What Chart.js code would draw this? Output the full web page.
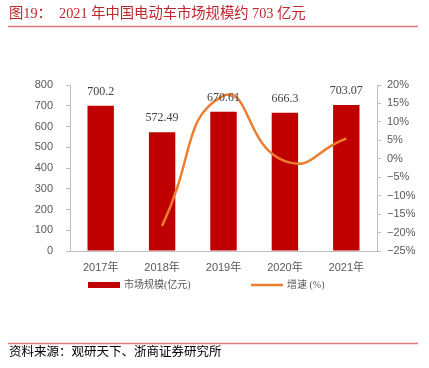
<!DOCTYPE html>
<html><head><meta charset="utf-8">
<script src="https://cdn.jsdelivr.net/npm/chart.js@4.4.1/dist/chart.umd.min.js"></script>
<style>
html,body{margin:0;padding:0;background:#fff;width:429px;height:368px;overflow:hidden;}
#wrap{position:absolute;left:0;top:0;width:429px;height:368px;}
</style></head><body>
<div id="wrap"><canvas id="c" width="429" height="368"></canvas></div>
<script>
const categories = ["2017年","2018年","2019年","2020年","2021年"];
const marketSize = [700.2, 572.49, 670.61, 666.3, 703.07];
const sizeLabels = ["700.2","572.49","670.61","666.3","703.07"];
const growth = [null, -18.2, 17.1, -0.64, 5.5];
const leftTicks = [0,100,200,300,400,500,600,700,800];
const rightTicks = [-25,-20,-15,-10,-5,0,5,10,15,20];
const seriesNames = ["市场规模(亿元)", "增速 (%)"];
const titleText = "图19：  2021 年中国电动车市场规模约 703 亿元";
const sourceText = "资料来源：观研天下、浙商证券研究所";

const RED = '#c00000', ORANGE = '#ed7d31', GRAY = '#595959', AX = '#bfbfbf';

const deco = {
  id: 'deco',
  afterDraw(chart) {
    const ctx = chart.ctx;
    ctx.save();
    // title
    ctx.fillStyle = '#c0262d';
    ctx.font = '14.3px "Liberation Serif", "Noto Sans CJK SC"';
    ctx.textBaseline = 'middle';
    ctx.textAlign = 'left';
    ctx.fillText(titleText, 9, 14);
    ctx.strokeStyle = '#e07a7a';
    ctx.lineWidth = 1.5;
    ctx.beginPath(); ctx.moveTo(8, 26.5); ctx.lineTo(418, 26.5); ctx.stroke();
    // footer
    ctx.beginPath(); ctx.moveTo(8, 343.5); ctx.lineTo(418, 343.5); ctx.stroke();
    ctx.fillStyle = '#000';
    ctx.font = '12.5px "Liberation Serif", "Noto Sans CJK SC"';
    ctx.fillText(sourceText, 9, 353);
    // data labels
    const meta = chart.getDatasetMeta(0);
    ctx.fillStyle = '#404040';
    ctx.font = '12px "Liberation Serif", "Noto Sans CJK SC"';
    ctx.textAlign = 'center';
    ctx.textBaseline = 'middle';
    meta.data.forEach((bar, i) => {
      ctx.fillText(sizeLabels[i], bar.x, bar.y - 14);
    });
    // legend
    ctx.fillStyle = chart.data.datasets[0].backgroundColor;
    ctx.fillRect(88, 282, 32, 6);
    ctx.strokeStyle = chart.data.datasets[1].borderColor;
    ctx.lineWidth = 2.5;
    ctx.beginPath(); ctx.moveTo(251, 285); ctx.lineTo(283, 285); ctx.stroke();
    ctx.fillStyle = GRAY;
    ctx.font = '10px "Liberation Serif", "Noto Sans CJK SC"';
    ctx.textAlign = 'left';
    ctx.fillText(chart.data.datasets[0].label, 124, 285);
    ctx.fillText(chart.data.datasets[1].label, 287, 285);
    ctx.restore();
  }
};

new Chart(document.getElementById('c'), {
  data: {
    labels: categories,
    datasets: [
      { type: 'bar', label: seriesNames[0], data: marketSize, yAxisID: 'y',
        backgroundColor: RED, barPercentage: 0.43, categoryPercentage: 1, order: 1 },
      { type: 'line', label: seriesNames[1], data: growth, yAxisID: 'y1',
        borderColor: ORANGE, backgroundColor: ORANGE, borderWidth: 2.5,
        pointRadius: 0, tension: 0.55, order: 0 }
    ]
  },
  options: {
    responsive: false, animation: false,
    devicePixelRatio: 1,
    layout: { padding: { top: 85, left: 0, right: 0, bottom: 0 } },
    plugins: { legend: { display: false }, tooltip: { enabled: false } },
    scales: {
      x: {
        grid: { display: false },
        border: { display: true, color: AX },
        ticks: { color: GRAY, font: { family: '"Liberation Sans", "Noto Sans CJK SC"', size: 11 }, padding: 2 },
        afterFit(s) { s.height = 117; }
      },
      y: {
        position: 'left', min: 0, max: 800,
        afterBuildTicks(s) { s.ticks = leftTicks.map(v => ({ value: v })); },
        grid: { drawOnChartArea: false, drawTicks: true, tickLength: 4, color: AX },
        border: { display: true, color: AX },
        ticks: { color: GRAY, font: { family: '"Liberation Sans"', size: 11 }, padding: 13 },
        afterFit(s) { s.width = 70; }
      },
      y1: {
        position: 'right', min: -25, max: 20,
        afterBuildTicks(s) { s.ticks = rightTicks.map(v => ({ value: v })); },
        grid: { drawOnChartArea: false, drawTicks: true, tickLength: 4, color: AX },
        border: { display: true, color: AX },
        ticks: { color: GRAY, font: { family: '"Liberation Sans"', size: 11 }, padding: 6,
          callback: v => (v < 0 ? '\u2212' + Math.abs(v) : v) + '%' },
        afterFit(s) { s.width = 52; }
      }
    }
  },
  plugins: [deco]
});
</script>
</body></html>
